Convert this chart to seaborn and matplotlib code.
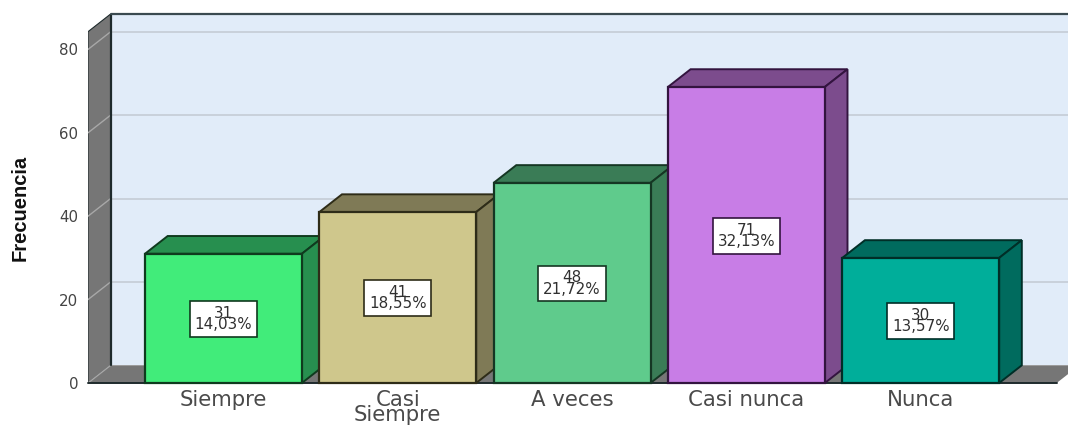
import matplotlib
matplotlib.use("Agg")
import matplotlib.pyplot as plt
import seaborn as sns
import pandas as pd
from matplotlib.patches import Polygon

categories = ["Siempre", "Casi\nSiempre", "A veces", "Casi nunca", "Nunca"]
frequencies = [31, 41, 48, 71, 30]
percent_labels = ["14,03%", "18,55%", "21,72%", "32,13%", "13,57%"]
y_ticks = [0, 20, 40, 60, 80]
front_colors = ["#41EC7A", "#CFC78C", "#5FCB8C", "#C87DE6", "#00AE9A"]
side_colors = ["#278F4F", "#7F7A56", "#3A7C56", "#7C4C8D", "#006B5E"]
edge_colors = ["#0F3A1E", "#2E2C18", "#153623", "#33143F", "#002E27"]

sns.set_theme(style="white")
plt.rcParams["font.family"] = ["DejaVu Sans"]

W, H = 1068, 425
fig = plt.figure(figsize=(W / 100, H / 100), dpi=100, facecolor="white")
ax = fig.add_axes([88 / W, (H - 383) / H, (W - 88) / W, (383 - 14) / H])
df = pd.DataFrame({"cat": categories, "freq": frequencies})
sns.barplot(data=df, x="cat", y="freq", hue="cat", palette=front_colors, hue_order=categories,
            order=categories, width=0.9, saturation=1, dodge=False, legend=False, ax=ax)
bars = sorted(ax.patches, key=lambda p: p.get_x())

x_left, x_right = -0.777, 4.845
y_top = 88.5
ax.set_xlim(x_left, x_right)
ax.set_ylim(0, y_top)
depth_x, depth_y = 0.13, 4.25
wall_top = y_top - depth_y
floor_end = 4.78
wall_fill, gray = "#E1ECF9", "#767676"
grid_c, dark = "#C2CAD2", "#1E2A2C"

ax.add_patch(Polygon([(x_left + depth_x, depth_y), (x_right, depth_y), (x_right, y_top),
                      (x_left + depth_x, y_top)], fc=wall_fill, ec="none", zorder=0.5))
ax.add_patch(Polygon([(x_left, 0), (x_left + depth_x, depth_y), (x_left + depth_x, y_top),
                      (x_left, wall_top)], fc=gray, ec=dark, lw=0.8, zorder=0.6))
ax.add_patch(Polygon([(x_left, 0), (floor_end, 0), (floor_end + depth_x, depth_y),
                      (x_left + depth_x, depth_y)], fc=gray, ec="none", zorder=0.6))
for v in y_ticks[1:]:
    ax.plot([x_left + depth_x, x_right], [v + depth_y] * 2, color=grid_c, lw=1.1, zorder=0.7)
    ax.plot([x_left, x_left + depth_x], [v, v + depth_y], color="#A8A8A8", lw=1, zorder=0.7)
ax.plot([x_left, x_left + depth_x], [0, depth_y], color="#A8A8A8", lw=1, zorder=0.7)
ax.plot([x_left + depth_x] * 2, [depth_y, y_top], color=dark, lw=1.6, zorder=0.8)
ax.plot([x_left + depth_x, x_right], [y_top, y_top], color="#3A4A50", lw=1.6, zorder=0.8, clip_on=False)
ax.plot([x_left, floor_end], [0, 0], color=dark, lw=1.4, zorder=1, clip_on=False)

for i, (bar, value, pct) in enumerate(zip(bars, frequencies, percent_labels)):
    x0, w, h = bar.get_x(), bar.get_width(), bar.get_height()
    x1 = x0 + w
    z = 3 + i
    bar.set_edgecolor(edge_colors[i]); bar.set_linewidth(1.6); bar.set_zorder(z + 0.5)
    bar.set_clip_on(False)
    ax.add_patch(Polygon([(x0, h), (x0 + depth_x, h + depth_y), (x1 + depth_x, h + depth_y), (x1, h)],
                         fc=side_colors[i], ec=edge_colors[i], lw=1.4, zorder=z))
    ax.add_patch(Polygon([(x1, 0), (x1 + depth_x, depth_y), (x1 + depth_x, h + depth_y), (x1, h)],
                         fc=side_colors[i], ec=edge_colors[i], lw=1.4, zorder=z))
    ax.text(x0 + w / 2, h / 2 - 0.15, f"{value}\n{pct}", ha="center", va="center", multialignment="center",
            fontsize=10.9, linespacing=0.68, color="#303030", zorder=z + 0.8,
            bbox=dict(boxstyle="square,pad=0.32", fc="white", ec=edge_colors[i], lw=1.2))

ax.set_yticks(y_ticks)
ax.tick_params(axis="y", length=0, pad=7, labelsize=10.8, labelcolor="#444444")
ax.tick_params(axis="x", length=0, pad=5, labelsize=15.3, labelcolor="#4A4A4A")
for t in ax.get_xticklabels():
    t.set_linespacing(0.72)
    t.set_verticalalignment("top")
for s in ax.spines.values():
    s.set_visible(False)
ax.set_xlabel("")
ax.set_ylabel("")
fig.text(20 / W, 1 - 208 / H, "Frecuencia", rotation=90, ha="center", va="center",
         fontsize=14.5, fontweight="bold", color="#111111",
         family=["Liberation Sans Narrow", "Liberation Sans"])
fig.savefig("out.png", dpi=100, facecolor="white")
